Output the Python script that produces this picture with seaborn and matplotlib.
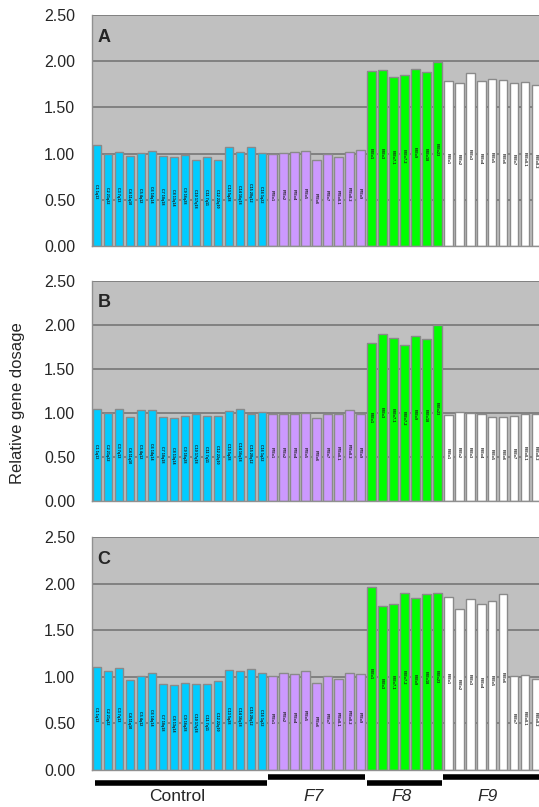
import numpy as np
import pandas as pd
import seaborn as sns
import matplotlib.pyplot as plt
from matplotlib.transforms import blended_transform_factory

# bar labels per group
control_labels = ["C1 1q13", "C2 21q22", "C3 7q13", "C4 11q10", "C5 4q12", "C6 14q14",
                  "C7 18q18", "C8 13q14", "C9 16q28", "C10 17q18", "C11 7q11", "C12 22q10",
                  "C13 5q28", "C14 16q18", "C15 20q12", "C16 1q22"]
f7_labels = ["F7Ex1", "F7Ex2", "F7Ex4", "F7Ex5", "F7Ex6", "F7Ex7", "F7Ex8-1", "F7Ex8-2", "F7Ex9"]
f8_labels = ["F8Ex1", "F8Ex3", "F8Ex7-1", "F8Ex7-2", "F8Ex9", "F8Ex18", "F8Ex23"]
f9_labels = ["F9Ex1", "F9Ex2", "F9Ex3", "F9Ex4", "F9Ex5", "F9Ex6", "F9Ex7", "F9Ex8-1", "F9Ex8-2"]

group_names = ["Control", "F7", "F8", "F9"]

# relative gene dosage, panel A
a_control = [1.09, 1.00, 1.02, 0.97, 1.01, 1.03, 0.97, 0.96, 0.99, 0.93, 0.96, 0.93, 1.07, 1.02, 1.07, 1.01]
a_f7 = [1.00, 1.01, 1.02, 1.03, 0.93, 1.00, 0.96, 1.02, 1.04]
a_f8 = [1.89, 1.91, 1.83, 1.85, 1.92, 1.88, 1.99]
a_f9 = [1.79, 1.76, 1.87, 1.79, 1.81, 1.80, 1.76, 1.78, 1.74]

# panel B
b_control = [1.04, 1.00, 1.05, 0.95, 1.03, 1.03, 0.96, 0.94, 0.97, 0.99, 0.97, 0.97, 1.02, 1.04, 0.99, 1.01]
b_f7 = [0.99, 0.99, 0.99, 1.00, 0.94, 0.99, 0.99, 1.03, 0.99]
b_f8 = [1.80, 1.90, 1.85, 1.77, 1.87, 1.84, 2.00]
b_f9 = [0.98, 1.01, 1.00, 0.99, 0.96, 0.95, 0.97, 0.99, 0.99]

# panel C
c_control = [1.10, 1.06, 1.09, 0.97, 1.01, 1.04, 0.92, 0.91, 0.93, 0.92, 0.92, 0.95, 1.07, 1.06, 1.08, 1.04]
c_f7 = [1.01, 1.04, 1.03, 1.06, 0.93, 1.01, 0.98, 1.04, 1.03]
c_f8 = [1.96, 1.76, 1.78, 1.90, 1.85, 1.89, 1.90]
c_f9 = [1.86, 1.73, 1.84, 1.78, 1.81, 1.89, 1.01, 1.02, 0.98]

y_ticks = [0.0, 0.5, 1.0, 1.5, 2.0, 2.5]

colors = {"Control": "#00ccff", "F7": "#cc99ff", "F8": "#00ff00", "F9": "#ffffff"}

labels = control_labels + f7_labels + f8_labels + f9_labels
groups = (["Control"] * len(control_labels) + ["F7"] * len(f7_labels)
          + ["F8"] * len(f8_labels) + ["F9"] * len(f9_labels))

panels = {
    "A": a_control + a_f7 + a_f8 + a_f9,
    "B": b_control + b_f7 + b_f8 + b_f9,
    "C": c_control + c_f7 + c_f8 + c_f9,
}

sns.set_theme(style="white")
plt.rcParams['font.family'] = ['Liberation Sans', 'DejaVu Sans']

fig = plt.figure(figsize=(5.39, 8.07), dpi=100)
boxes = {"A": [0.1707, 0.6952, 0.8293, 0.2862],
         "B": [0.1707, 0.3792, 0.8293, 0.2726],
         "C": [0.1707, 0.0458, 0.8293, 0.2888]}
x_right = 40.25

for name, vals in panels.items():
    ax = fig.add_axes(boxes[name])
    df = pd.DataFrame({"label": labels, "value": vals, "group": groups})
    ax.set_facecolor("#c0c0c0")
    for t in y_ticks[1:]:
        ax.axhline(t, color="#707070", lw=1.1, zorder=0)
    sns.barplot(data=df, x="label", y="value", hue="group", palette=colors,
                order=labels, dodge=False, width=0.76, edgecolor="#8a8a8a",
                linewidth=1.0, saturation=1, legend=False, ax=ax, zorder=2)
    # tiny labels inside bars
    for i, (lab, v) in enumerate(zip(labels, vals)):
        ax.text(i - 0.05, v / 2 + 0.05, lab, rotation=270, ha="center", va="center",
                fontsize=2.7, color="#1a1a1a", fontweight="bold", zorder=3)
    ax.set_xlim(-0.45, x_right)
    ax.set_ylim(0, 2.5)
    ax.set_yticks(y_ticks)
    ax.set_yticklabels([f"{t:.2f}" for t in y_ticks], fontsize=11.5)
    ax.tick_params(axis="y", length=3, color="#808080", pad=9)
    ax.set_xticks([])
    ax.set_xlabel("")
    ax.set_ylabel("")
    for s in ["top", "right"]:
        ax.spines[s].set_visible(False)
    for s in ["left", "bottom"]:
        ax.spines[s].set_color("#909090")
        ax.spines[s].set_linewidth(1.0)
    ax.text(0.012, 0.94, name, transform=ax.transAxes, fontsize=13,
            fontweight="bold", ha="left", va="top", zorder=4)

    if name == "C":
        tr = blended_transform_factory(ax.transData, ax.transAxes)
        start = 0
        line_y = {"Control": -0.056, "F7": -0.030, "F8": -0.056, "F9": -0.030}
        for g in group_names:
            n = groups.count(g)
            x0 = start - 0.45 if g != "Control" else start - 0.15
            x1 = start + n - 1 + 0.45
            ax.plot([x0, x1], [line_y[g], line_y[g]], color="black", lw=4,
                    solid_capstyle="butt", transform=tr, clip_on=False)
            ax.text((x0 + min(x1, x_right)) / 2 - 0.3, -0.115, g, transform=tr,
                    ha="center", va="center", fontsize=12.5,
                    style="normal" if g == "Control" else "italic")
            start += n

fig.text(0.033, 0.5, "Relative gene dosage", rotation=90, ha="center",
         va="center", fontsize=12)

plt.savefig("out.png", dpi=100)
